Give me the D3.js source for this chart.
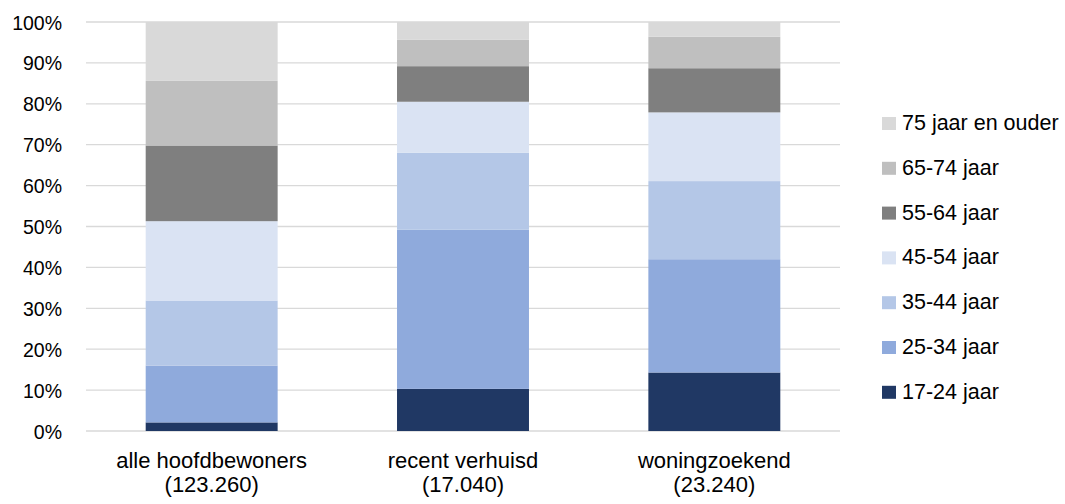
<!DOCTYPE html>
<html>
<head>
<meta charset="utf-8">
<script src="https://cdn.jsdelivr.net/npm/d3@7"></script>
<style>
  body { margin: 0; background: #fff; }
  text { font-family: "Liberation Sans", Arial, sans-serif; fill: #000; }
</style>
</head>
<body>
<svg id="chart"></svg>
<script>
const categories = ['alle hoofdbewoners', 'recent verhuisd', 'woningzoekend']
const counts = ['(123.260)', '(17.040)', '(23.240)']
const ageGroups = ['17-24 jaar', '25-34 jaar', '35-44 jaar', '45-54 jaar', '55-64 jaar', '65-74 jaar', '75 jaar en ouder']
const colors = ['#203864', '#8faadc', '#b4c7e7', '#dae3f3', '#7f7f7f', '#bfbfbf', '#d9d9d9']

// share per age group (%), one value per category
const share17 = [2.1, 10.3, 14.3]
const share25 = [13.9, 38.9, 27.7]
const share35 = [15.9, 18.8, 19.1]
const share45 = [19.4, 12.5, 16.8]
const share55 = [18.5, 8.7, 10.8]
const share65 = [15.8, 6.5, 7.7]
const share75 = [14.4, 4.3, 3.6]
const yTicks = [0, 10, 20, 30, 40, 50, 60, 70, 80, 90, 100]

const series = [share17, share25, share35, share45, share55, share65, share75]
const table = categories.map((c, i) => {
  const row = { category: c }
  ageGroups.forEach((g, j) => { row[g] = series[j][i] })
  return row
})

const width = 1065, height = 504
const margin = { left: 86, right: 225, top: 22, bottom: 73 }

const svg = d3.select('#chart')
  .attr('width', width)
  .attr('height', height)

const x = d3.scaleBand()
  .domain(categories)
  .range([margin.left, width - margin.right])
  .paddingInner(0.475)
  .paddingOuter(0.2375)

const y = d3.scaleLinear()
  .domain([0, 100])
  .range([height - margin.bottom, margin.top])

// gridlines
svg.append('g')
  .selectAll('line')
  .data(yTicks)
  .join('line')
  .attr('x1', margin.left)
  .attr('x2', width - margin.right)
  .attr('y1', d => y(d))
  .attr('y2', d => y(d))
  .attr('stroke', '#d9d9d9')
  .attr('stroke-width', 1.3)

// y axis labels
const yAxis = svg.append('g')
  .attr('transform', `translate(${margin.left - 24},0)`)
  .call(d3.axisLeft(y).tickValues(yTicks).tickFormat(d => d + '%').tickSize(0).tickPadding(0))
yAxis.select('.domain').remove()
yAxis.selectAll('text')
  .style('font-size', '19.5px')
  .attr('fill', '#000')
  .attr('dy', '7px')

// stacked bars
const stacked = d3.stack().keys(ageGroups)(table)
svg.append('g')
  .selectAll('g')
  .data(stacked)
  .join('g')
  .attr('fill', (d, i) => colors[i])
  .selectAll('rect')
  .data(d => d)
  .join('rect')
  .attr('x', d => x(d.data.category))
  .attr('width', x.bandwidth())
  .attr('y', d => y(d[1]))
  .attr('height', d => y(d[0]) - y(d[1]))

// category labels
const xLab = svg.append('g')
  .selectAll('text')
  .data(categories)
  .join('text')
  .attr('text-anchor', 'middle')
  .style('font-size', '22px')
xLab.append('tspan')
  .attr('x', d => x(d) + x.bandwidth() / 2)
  .attr('y', 468)
  .text(d => d)
xLab.append('tspan')
  .attr('x', d => x(d) + x.bandwidth() / 2)
  .attr('y', 492)
  .text((d, i) => counts[i])

// legend, top entry is the oldest group
const legend = svg.append('g')
  .selectAll('g')
  .data(ageGroups.slice().reverse())
  .join('g')
  .attr('transform', (d, i) => `translate(882,${130 + i * 44.8})`)
legend.append('rect')
  .attr('x', 0)
  .attr('y', -13)
  .attr('width', 14)
  .attr('height', 13)
  .attr('fill', d => colors[ageGroups.indexOf(d)])
legend.append('text')
  .attr('x', 20)
  .attr('y', 0)
  .style('font-size', '21.5px')
  .text(d => d)
</script>
</body>
</html>
